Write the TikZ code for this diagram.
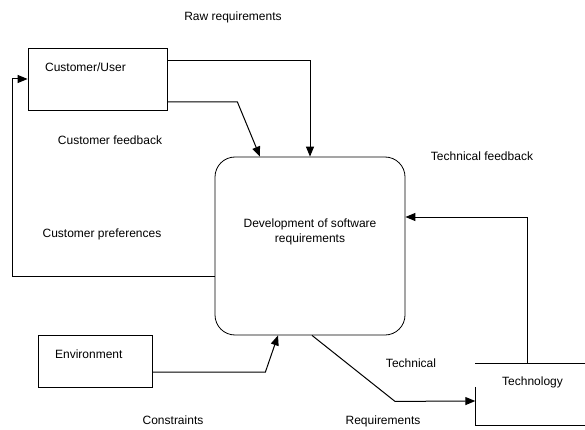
\documentclass[tikz,border=0pt]{standalone}
\usepackage{fontspec}
\setmainfont{Liberation Sans}
\usetikzlibrary{positioning, arrows.meta}
\tikzset{every node/.style={font=\fontsize{12}{15}\selectfont}}

\begin{document}
\begin{tikzpicture}[x=1pt, y=-1pt,
    entity/.style={draw, thick, rectangle, inner sep=0pt},
    process/.style={draw, thick, rectangle, rounded corners=20pt, minimum width=190pt, minimum height=178pt},
    store/.style={rectangle, minimum width=110pt, minimum height=61pt},
    inside/.style={anchor=west, xshift=14pt, yshift=-20pt},
    flow/.style={line width=1pt, -{Triangle[length=10pt, width=8pt]}}]

    \useasboundingbox (0,0) rectangle (585,430);

    % Boxes
    \node[entity, minimum width=139pt, minimum height=62pt] (cust) at (97.5,79)
        [label={[inside]north west:Customer/User}] {};
    \node[entity, minimum width=114pt, minimum height=52pt] (env) at (95,361)
        [label={[inside]north west:Environment}] {};
    \node[process] (dev) at (310,246)
        [label={[align=center, yshift=14pt]center:Development of software\\requirements}] {};
    \node[store] (tech) at (530.5,394.5) {};
    \node (techtxt) [below=9pt of tech.north, xshift=2pt] {Technology};
    \draw[thick] (tech.north west) -- (tech.north east);
    \draw[thick] ([yshift=-23pt]tech.north west) -- (tech.south west) -- (tech.south east);

    % Flows
    \draw[flow] ([yshift=18pt]cust.east) -| (dev.north);
    \draw[flow] ([yshift=-23pt]cust.east) -- ++(70,0) -- ([xshift=-50pt]dev.north);
    \draw[flow] ([yshift=-30pt]dev.west) -- ++(-202,0) |- (cust.west);
    \draw[flow] ([xshift=-3pt]tech.north) |- ([yshift=29pt]dev.east);
    \draw[flow] ([xshift=2pt]dev.south) -- ++(83,66) -- ([yshift=-6.5pt]tech.west);
    \draw[flow] ([yshift=-11pt]env.east) -- ++(113,0) -- ([xshift=-32pt]dev.south);

    % Labels
    \node (raw) at (233,17) {Raw requirements};
    \node (cfb) at (110,140) {Customer feedback};
    \node (cpref) at (102,234) {Customer preferences};
    \node (tfb) at (482,156) {Technical feedback};
    \node (techn) at (411,363) {Technical};
    \node (req) at (383,421) {Requirements};
    \node (cons) at (173,420) {Constraints};

\end{tikzpicture}
\end{document}
